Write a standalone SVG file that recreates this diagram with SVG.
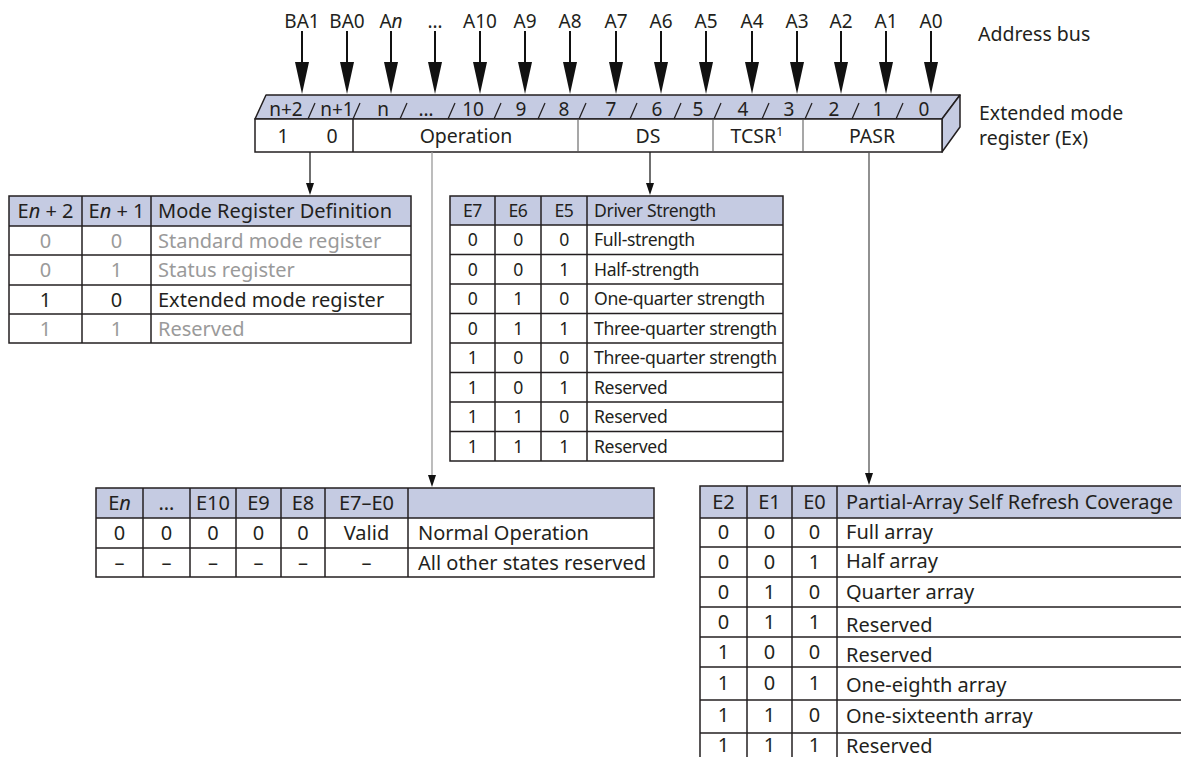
<svg xmlns="http://www.w3.org/2000/svg" width="1181" height="757" viewBox="0 0 1181 757">
<defs>
<style>
.t{font-family:"Noto Sans","Open Sans","Liberation Sans",sans-serif;font-size:19px;fill:#231f20}
.s20{font-size:20px}
.s17{font-size:17.6px;letter-spacing:-0.35px}
.s195{font-size:19.5px}
.c{text-anchor:middle}
.g{fill:#9a9a9a}
.hdr{fill:#c5cbe2;stroke:none}
.grid{stroke:#231f20;stroke-width:1.5;fill:none}
.bus{stroke:#111;stroke-width:2;fill:none}
.lead{stroke:#222;stroke-width:1.3;fill:none}
.face{fill:#c5cbe2;stroke:#231f20;stroke-width:1.5;stroke-linejoin:round}
.front{fill:#fff;stroke:#231f20;stroke-width:1.5}
.sl{stroke:#231f20;stroke-width:1.2}
.dv{stroke:#8a8a8a;stroke-width:1.5}
</style>
<marker id="big" markerUnits="userSpaceOnUse" viewBox="0 0 32 14" markerWidth="32" markerHeight="14" refX="24" refY="7" orient="auto">
<path d="M0,0 L32,7 L0,14 z" fill="#111"/>
</marker>
<marker id="small" markerUnits="userSpaceOnUse" viewBox="0 0 12 8" markerWidth="12" markerHeight="8" refX="9" refY="4" orient="auto">
<path d="M0,0 L12,4 L0,8 z" fill="#111"/>
</marker>
</defs>
<rect width="1181" height="757" fill="#fff"/>

<g id="address-bus-labels" class="t c">
<text x="302" y="28">BA1</text>
<text x="347" y="28">BA0</text>
<text x="391" y="28">A<tspan font-style="italic">n</tspan></text>
<text x="435" y="28">…</text>
<text x="480" y="28">A10</text>
<text x="525" y="28">A9</text>
<text x="570" y="28">A8</text>
<text x="616" y="28">A7</text>
<text x="661" y="28">A6</text>
<text x="706" y="28">A5</text>
<text x="752" y="28">A4</text>
<text x="797" y="28">A3</text>
<text x="841" y="28">A2</text>
<text x="886" y="28">A1</text>
<text x="931" y="28">A0</text>
</g>

<g id="side-labels" class="t s195">
<text x="978" y="41">Address bus</text>
<text x="979" y="120">Extended mode</text>
<text x="979" y="145">register (Ex)</text>
</g>

<g id="register">
<polygon class="face" points="255,119 266,95 960,95 942,119"/>
<polygon class="face" points="942,119 960,95 960,127 942,152"/>
<rect class="front" x="255" y="119" width="687" height="33"/>
<line class="sl" x1="308" y1="119" x2="315" y2="103"/>
<line class="sl" x1="353" y1="119" x2="360" y2="103"/>
<line class="sl" x1="400" y1="119" x2="407" y2="103"/>
<line class="sl" x1="448" y1="119" x2="455" y2="103"/>
<line class="sl" x1="494" y1="119" x2="501" y2="103"/>
<line class="sl" x1="538" y1="119" x2="545" y2="103"/>
<line class="sl" x1="579" y1="119" x2="586" y2="103"/>
<line class="sl" x1="630" y1="119" x2="637" y2="103"/>
<line class="sl" x1="674" y1="119" x2="681" y2="103"/>
<line class="sl" x1="714" y1="119" x2="721" y2="103"/>
<line class="sl" x1="762" y1="119" x2="769" y2="103"/>
<line class="sl" x1="805" y1="119" x2="812" y2="103"/>
<line class="sl" x1="852" y1="119" x2="859" y2="103"/>
<line class="sl" x1="896" y1="119" x2="903" y2="103"/>
<g class="t c">
<text x="286" y="116">n+2</text>
<text x="337" y="116">n+1</text>
<text x="383" y="116">n</text>
<text x="426" y="116">…</text>
<text x="473" y="116">10</text>
<text x="521" y="116">9</text>
<text x="564" y="116">8</text>
<text x="611" y="116">7</text>
<text x="657" y="116">6</text>
<text x="698" y="116">5</text>
<text x="743" y="116">4</text>
<text x="789" y="116">3</text>
<text x="834" y="116">2</text>
<text x="878" y="116">1</text>
<text x="924" y="116">0</text>
</g>
<line x1="353" y1="119" x2="353" y2="152" stroke="#231f20" stroke-width="1.5"/>
<line class="dv" x1="578" y1="120" x2="578" y2="151"/>
<line class="dv" x1="713" y1="120" x2="713" y2="151"/>
<line class="dv" x1="803" y1="120" x2="803" y2="151"/>
<g class="t c s195">
<text x="283" y="143">1</text>
<text x="332" y="143">0</text>
<text x="466" y="143">Operation</text>
<text x="648" y="143">DS</text>
<text x="757" y="143">TCSR<tspan dy="-7" font-size="13">1</tspan></text>
<text x="872" y="143">PASR</text>
</g>
</g>

<g id="connectors">
<line class="bus" marker-end="url(#big)" x1="302" y1="31" x2="302" y2="86"/>
<line class="bus" marker-end="url(#big)" x1="347" y1="31" x2="347" y2="86"/>
<line class="bus" marker-end="url(#big)" x1="391" y1="31" x2="391" y2="86"/>
<line class="bus" marker-end="url(#big)" x1="435" y1="31" x2="435" y2="86"/>
<line class="bus" marker-end="url(#big)" x1="480" y1="31" x2="480" y2="86"/>
<line class="bus" marker-end="url(#big)" x1="525" y1="31" x2="525" y2="86"/>
<line class="bus" marker-end="url(#big)" x1="570" y1="31" x2="570" y2="86"/>
<line class="bus" marker-end="url(#big)" x1="616" y1="31" x2="616" y2="86"/>
<line class="bus" marker-end="url(#big)" x1="661" y1="31" x2="661" y2="86"/>
<line class="bus" marker-end="url(#big)" x1="706" y1="31" x2="706" y2="86"/>
<line class="bus" marker-end="url(#big)" x1="752" y1="31" x2="752" y2="86"/>
<line class="bus" marker-end="url(#big)" x1="797" y1="31" x2="797" y2="86"/>
<line class="bus" marker-end="url(#big)" x1="841" y1="31" x2="841" y2="86"/>
<line class="bus" marker-end="url(#big)" x1="886" y1="31" x2="886" y2="86"/>
<line class="bus" marker-end="url(#big)" x1="931" y1="31" x2="931" y2="86"/>
<line class="lead" marker-end="url(#small)" x1="310" y1="152" x2="310" y2="192"/>
<line class="lead" style="stroke:#999" marker-end="url(#small)" x1="432" y1="152" x2="432" y2="484"/>
<line class="lead" marker-end="url(#small)" x1="650" y1="152" x2="650" y2="192"/>
<line class="lead" style="stroke:#555" marker-end="url(#small)" x1="869" y1="152" x2="869" y2="482"/>
</g>

<g id="mode-table">
<rect class="hdr" x="9" y="196" width="402" height="30"/>
<g class="grid">
<rect x="9" y="196" width="402" height="147"/>
<line x1="9" y1="226" x2="411" y2="226"/>
<line x1="9" y1="255" x2="411" y2="255"/>
<line x1="9" y1="285" x2="411" y2="285"/>
<line x1="9" y1="314" x2="411" y2="314"/>
<line x1="82" y1="196" x2="82" y2="343"/>
<line x1="151" y1="196" x2="151" y2="343"/>
</g>
<g class="t s20">
<text class="c" x="45.5" y="218">E<tspan font-style="italic">n</tspan> + 2</text>
<text class="c" x="116.5" y="218">E<tspan font-style="italic">n</tspan> + 1</text>
<text x="158" y="218">Mode Register Definition</text>
<text class="c g" x="45.5" y="247.5">0</text><text class="c g" x="116.5" y="247.5">0</text><text class="g" x="158" y="247.5">Standard mode register</text>
<text class="c g" x="45.5" y="277">0</text><text class="c g" x="116.5" y="277">1</text><text class="g" x="158" y="277">Status register</text>
<text class="c" x="45.5" y="306.5">1</text><text class="c" x="116.5" y="306.5">0</text><text x="158" y="306.5">Extended mode register</text>
<text class="c g" x="45.5" y="335.5">1</text><text class="c g" x="116.5" y="335.5">1</text><text class="g" x="158" y="335.5">Reserved</text>
</g>
</g>

<g id="driver-table">
<rect class="hdr" x="450" y="196" width="333" height="29"/>
<g class="grid">
<rect x="450" y="196" width="333" height="265"/>
<line x1="450" y1="225" x2="783" y2="225"/>
<line x1="450" y1="254.5" x2="783" y2="254.5"/>
<line x1="450" y1="284" x2="783" y2="284"/>
<line x1="450" y1="313.5" x2="783" y2="313.5"/>
<line x1="450" y1="343" x2="783" y2="343"/>
<line x1="450" y1="372.5" x2="783" y2="372.5"/>
<line x1="450" y1="402" x2="783" y2="402"/>
<line x1="450" y1="431.5" x2="783" y2="431.5"/>
<line x1="495" y1="196" x2="495" y2="461"/>
<line x1="541" y1="196" x2="541" y2="461"/>
<line x1="587" y1="196" x2="587" y2="461"/>
</g>
<g class="t s17">
<text class="c" x="472.5" y="217">E7</text><text class="c" x="518" y="217">E6</text><text class="c" x="564" y="217">E5</text><text x="594" y="217">Driver Strength</text>
<text class="c" x="472.5" y="246">0</text><text class="c" x="518" y="246">0</text><text class="c" x="564" y="246">0</text><text x="594" y="246">Full-strength</text>
<text class="c" x="472.5" y="275.5">0</text><text class="c" x="518" y="275.5">0</text><text class="c" x="564" y="275.5">1</text><text x="594" y="275.5">Half-strength</text>
<text class="c" x="472.5" y="305">0</text><text class="c" x="518" y="305">1</text><text class="c" x="564" y="305">0</text><text x="594" y="305">One-quarter strength</text>
<text class="c" x="472.5" y="334.5">0</text><text class="c" x="518" y="334.5">1</text><text class="c" x="564" y="334.5">1</text><text x="594" y="334.5">Three-quarter strength</text>
<text class="c" x="472.5" y="364">1</text><text class="c" x="518" y="364">0</text><text class="c" x="564" y="364">0</text><text x="594" y="364">Three-quarter strength</text>
<text class="c" x="472.5" y="393.5">1</text><text class="c" x="518" y="393.5">0</text><text class="c" x="564" y="393.5">1</text><text x="594" y="393.5">Reserved</text>
<text class="c" x="472.5" y="423">1</text><text class="c" x="518" y="423">1</text><text class="c" x="564" y="423">0</text><text x="594" y="423">Reserved</text>
<text class="c" x="472.5" y="452.5">1</text><text class="c" x="518" y="452.5">1</text><text class="c" x="564" y="452.5">1</text><text x="594" y="452.5">Reserved</text>
</g>
</g>

<g id="operation-table">
<rect class="hdr" x="96" y="488" width="558" height="30"/>
<g class="grid">
<rect x="96" y="488" width="558" height="89"/>
<line x1="96" y1="518" x2="654" y2="518"/>
<line x1="96" y1="548" x2="654" y2="548"/>
<line x1="143" y1="488" x2="143" y2="577"/>
<line x1="190" y1="488" x2="190" y2="577"/>
<line x1="236" y1="488" x2="236" y2="577"/>
<line x1="281" y1="488" x2="281" y2="577"/>
<line x1="325" y1="488" x2="325" y2="577"/>
<line x1="408" y1="488" x2="408" y2="577"/>
</g>
<g class="t c s20">
<text x="119.5" y="510">E<tspan font-style="italic">n</tspan></text>
<text x="166.5" y="510">…</text>
<text x="213" y="510">E10</text>
<text x="258.5" y="510">E9</text>
<text x="303" y="510">E8</text>
<text x="366.5" y="510">E7–E0</text>
<text x="119.5" y="540">0</text><text x="166.5" y="540">0</text><text x="213" y="540">0</text><text x="258.5" y="540">0</text><text x="303" y="540">0</text><text x="366.5" y="540">Valid</text>
<text x="119.5" y="569.5">–</text><text x="166.5" y="569.5">–</text><text x="213" y="569.5">–</text><text x="258.5" y="569.5">–</text><text x="303" y="569.5">–</text><text x="366.5" y="569.5">–</text>
</g>
<g class="t s20">
<text x="418" y="540">Normal Operation</text>
<text x="418" y="569.5">All other states reserved</text>
</g>
</g>

<g id="pasr-table">
<rect class="hdr" x="700" y="486" width="482" height="32"/>
<g class="grid">
<polyline points="1182,486 700,486 700,758"/>
<line x1="700" y1="518" x2="1182" y2="518"/>
<line x1="700" y1="547" x2="1182" y2="547"/>
<line x1="700" y1="577" x2="1182" y2="577"/>
<line x1="700" y1="607" x2="1182" y2="607"/>
<line x1="700" y1="637" x2="1182" y2="637"/>
<line x1="700" y1="667" x2="1182" y2="667"/>
<line x1="700" y1="700" x2="1182" y2="700"/>
<line x1="700" y1="733" x2="1182" y2="733"/>
<line x1="747" y1="486" x2="747" y2="758"/>
<line x1="792" y1="486" x2="792" y2="758"/>
<line x1="837" y1="486" x2="837" y2="758"/>
</g>
<g class="t s20">
<text class="c" x="723.5" y="509">E2</text><text class="c" x="769.5" y="509">E1</text><text class="c" x="814.5" y="509">E0</text><text x="846" y="509">Partial-Array Self Refresh Coverage</text>
<text class="c" x="723.5" y="539">0</text><text class="c" x="769.5" y="539">0</text><text class="c" x="814.5" y="539">0</text><text x="846" y="539">Full array</text>
<text class="c" x="723.5" y="569">0</text><text class="c" x="769.5" y="569">0</text><text class="c" x="814.5" y="569">1</text><text x="846" y="568">Half array</text>
<text class="c" x="723.5" y="599">0</text><text class="c" x="769.5" y="599">1</text><text class="c" x="814.5" y="599">0</text><text x="846" y="599">Quarter array</text>
<text class="c" x="723.5" y="629">0</text><text class="c" x="769.5" y="629">1</text><text class="c" x="814.5" y="629">1</text><text x="846" y="632">Reserved</text>
<text class="c" x="723.5" y="659">1</text><text class="c" x="769.5" y="659">0</text><text class="c" x="814.5" y="659">0</text><text x="846" y="662">Reserved</text>
<text class="c" x="723.5" y="690">1</text><text class="c" x="769.5" y="690">0</text><text class="c" x="814.5" y="690">1</text><text x="846" y="692">One-eighth array</text>
<text class="c" x="723.5" y="722">1</text><text class="c" x="769.5" y="722">1</text><text class="c" x="814.5" y="722">0</text><text x="846" y="723">One-sixteenth array</text>
<text class="c" x="723.5" y="752">1</text><text class="c" x="769.5" y="752">1</text><text class="c" x="814.5" y="752">1</text><text x="846" y="753">Reserved</text>
</g>
</g>
</svg>
